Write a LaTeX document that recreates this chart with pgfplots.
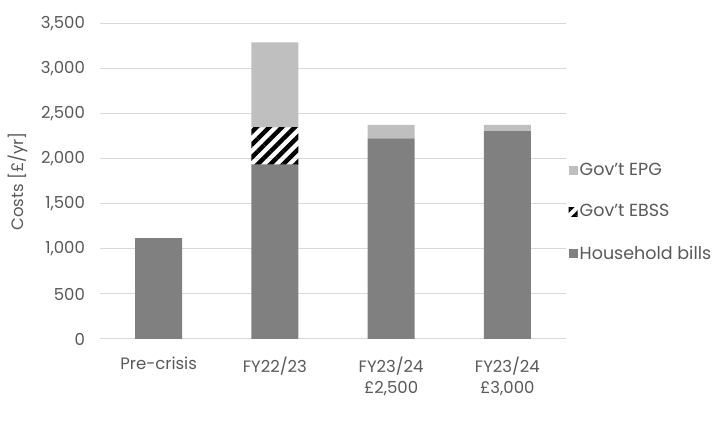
\documentclass[border=0pt]{standalone}
\usepackage{pgfplots}
\pgfplotsset{compat=1.18}
\usetikzlibrary{patterns.meta}
\usepackage{fontspec}
\setmainfont{Poppins}
\definecolor{txt}{HTML}{595959}
\definecolor{hh}{HTML}{808080}
\definecolor{epg}{HTML}{BFBFBF}
\definecolor{grd}{HTML}{D9D9D9}
\begin{document}
\begin{tikzpicture}
\useasboundingbox (0,0) rectangle (720pt,422pt);
\begin{axis}[
  at={(100.5pt,83pt)}, anchor=south west,
  scale only axis,
  width=465pt, height=315pt,
  ybar stacked,
  bar width=47pt,
  xmin=-0.5, xmax=3.5,
  ymin=0, ymax=3500,
  ytick={0,500,...,3500},
  xtick={0,1,2,3},
  xticklabels={Pre-crisis,FY22/23,{FY23/24\\£2,500},{FY23/24\\£3,000}},
  xticklabel style={align=center, yshift=-14pt},
  yticklabel style={xshift=-12pt},
  ymajorgrids,
  grid style={grd, line width=1pt},
  axis line style={draw=none},
  major tick length=0pt,
  tick style={draw=none},
  ticklabel style={font=\fontsize{16.5}{21}\selectfont, text=txt},
  /pgf/number format/assume math mode=true,
  /pgf/number format/1000 sep={,},
  ylabel={Costs [£/yr]},
  every axis y label/.style={at={(axis description cs:-0.177,0.5)}, rotate=90, anchor=center,
    font=\fontsize{16.5}{20}\selectfont, text=txt},
  reverse legend,
  legend style={draw=none, at={(axis description cs:1.0,0.403)}, anchor=west,
    font=\fontsize{17.5}{20}\selectfont, text=txt, row sep=23.5pt,
    /tikz/every even column/.append style={column sep=5pt}},
  legend cell align=left,
  legend image code/.code={\fill[#1] (0pt,-4.5pt) rectangle (9pt,4.5pt);},
]
\addplot[fill=hh, draw=none] coordinates {(0,1120) (1,1940) (2,2230) (3,2310)};
\addplot[pattern={Lines[angle=45,distance=9pt,line width=4.5pt]}, pattern color=black, draw=none]
  coordinates {(0,0) (1,410) (2,0) (3,0)};
\addplot[fill=epg, draw=none] coordinates {(0,0) (1,945) (2,150) (3,70)};
\legend{Household bills, Gov't EBSS, Gov't EPG}
\end{axis}
\end{tikzpicture}
\end{document}
